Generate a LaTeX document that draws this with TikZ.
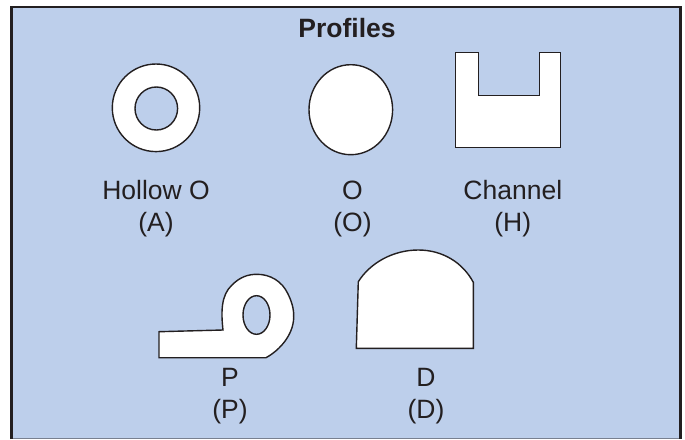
\documentclass[tikz,border=0pt]{standalone}
\usepackage{fontspec}
\setmainfont{Liberation Sans}
\definecolor{panel}{HTML}{BDCFEB}
\definecolor{ink}{HTML}{231F20}
\tikzset{
  profile/.style={draw=ink,line width=1.4pt,fill=white,line join=miter},
  hole/.style={draw=ink,line width=1.4pt,fill=panel},
  lbl/.style={text=ink,font=\fontsize{26.5}{32}\selectfont,align=center,inner sep=0pt},
  ttl/.style={text=ink,font=\fontsize{26.5}{30}\selectfont\bfseries,inner sep=0pt}
}
\begin{document}
\begin{tikzpicture}[x=1pt,y=-1pt]
\useasboundingbox (0,0) rectangle (685,439);
\fill[white] (0,0) rectangle (685,439);
\fill[panel] (11,7) rectangle (680.5,439);
\draw[ink!45!panel,line width=1pt] (11,438) -- (680.5,438);
\draw[ink,line width=2.6pt] (11.3,439) -- (11.3,7) -- (680.5,7) -- (680.5,439);
\node[ttl] (title) at (347,28.5) {Profiles};
% Hollow O
\draw[profile] (156,107.8) ellipse [x radius=43.7,y radius=43.8];
\draw[hole] (156.3,108.5) ellipse [x radius=21.3,y radius=21.5];
\node[lbl] (hollow) at (156,208.5) {Hollow O\\(A)};
% O
\draw[profile] (350.8,109.7) ellipse [x radius=41.8,y radius=45];
\node[lbl] (oval) at (352.5,208.5) {O\\(O)};
% Channel
\draw[profile] (455.5,52.7) -- (478.7,52.7) -- (478.7,95.7) -- (539.3,95.7) -- (539.3,52.7) -- (560.3,52.7) -- (560.3,147.3) -- (455.5,147.3) -- cycle;
\node[lbl] (channel) at (512.8,208.5) {Channel\\(H)};
% P
\draw[profile] (159,331.7) -- (223,330)
  .. controls (221,312) and (221,295) .. (232,285)
  .. controls (240,277) and (248,274.3) .. (257,274.3)
  .. controls (270,274.3) and (282,281) .. (288,294)
  .. controls (293,304) and (294,312) .. (293.7,318)
  .. controls (293,335) and (280,350) .. (266,357.7)
  -- (159,357.7) -- cycle;
\draw[hole] (256.5,315) ellipse [x radius=13.5,y radius=19.3];
\node[lbl] (pee) at (230,396) {P\\(P)};
% D
\draw[profile] (358.3,281.7) .. controls (370,263) and (393,250) .. (418.3,250)
  .. controls (443,250) and (463,263) .. (473.3,282.3)
  -- (473.3,348.3) -- (356.3,348.3) -- cycle;
\node[lbl] (dee) at (426,396) {D\\(D)};
\end{tikzpicture}
\end{document}
